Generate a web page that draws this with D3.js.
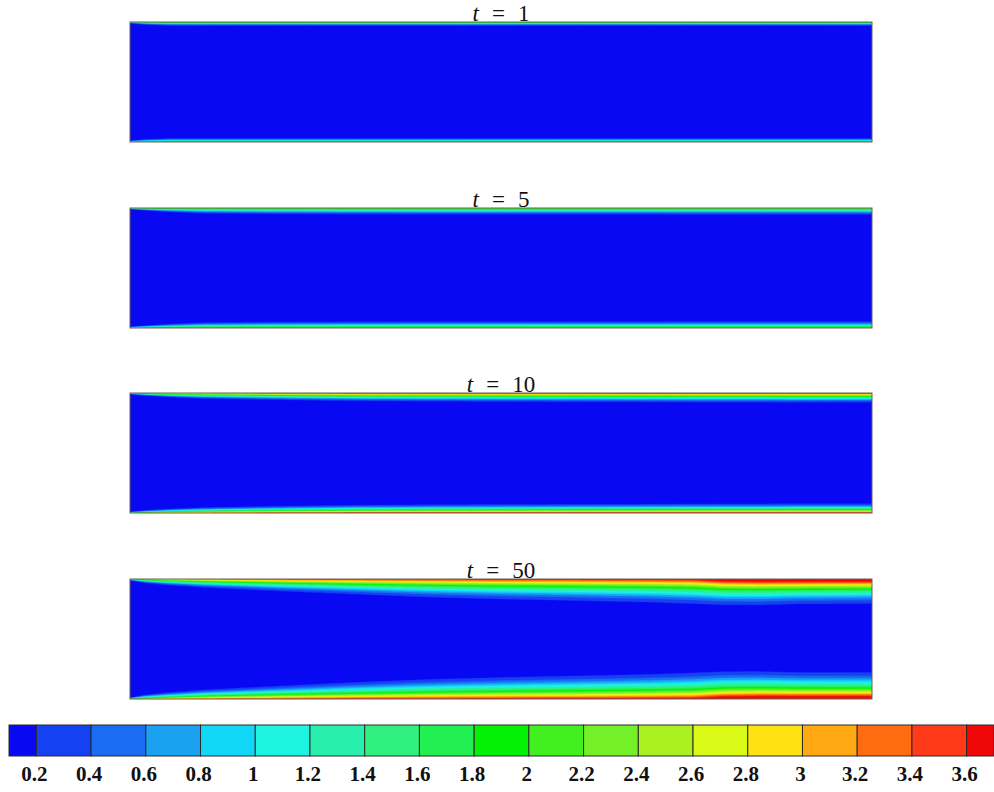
<!DOCTYPE html>
<html>
<head>
<meta charset="utf-8">
<title>Concentration contours</title>
<style>
  body { margin: 0; background: #fff; }
  svg { display: block; }
</style>
</head>
<body>
<div id="chart"></div>
<script src="https://d3js.org/d3.v7.min.js"></script>
<script>
var width = 994, height = 792;

// contour levels and colour bar
var levels = [0.2,0.4,0.6,0.8,1.0,1.2,1.4,1.6,1.8,2.0,2.2,2.4,2.6,2.8,3.0,3.2,3.4,3.6];
var levelLabels = ["0.2","0.4","0.6","0.8","1","1.2","1.4","1.6","1.8","2","2.2","2.4","2.6","2.8","3","3.2","3.4","3.6"];
var bandColors = ["#0808f2","#1442f2","#1a6cf2","#1aa2f0","#12d8f8","#1ef4e0","#28f0ac","#30f080",
                  "#22f052","#04f004","#42f020","#74f028","#aaf020","#dafa18","#ffe010","#ffa812",
                  "#ff6c10","#ff3a18","#f00808"];

// panels
var panelTimes = ["1","5","10","50"];
var coreValue = 0.1;

// stations along the channel (fraction of length)
var stations = [0, 0.02, 0.05, 0.1, 0.2, 0.3, 0.4, 0.5, 0.6, 0.7, 0.76, 0.8, 0.85, 0.9, 1];

// layer thickness at the top wall (fraction of channel height)
var thickTop = [
  [0.012, 0.028, 0.036, 0.038, 0.038, 0.038, 0.038, 0.038, 0.038, 0.038, 0.038, 0.038, 0.038, 0.038, 0.038],
  [0.010, 0.025, 0.040, 0.056, 0.063, 0.065, 0.066, 0.066, 0.067, 0.067, 0.068, 0.068, 0.068, 0.068, 0.068],
  [0.010, 0.025, 0.040, 0.055, 0.068, 0.078, 0.082, 0.085, 0.087, 0.089, 0.090, 0.091, 0.091, 0.092, 0.092],
  [0.012, 0.040, 0.060, 0.085, 0.120, 0.150, 0.180, 0.200, 0.215, 0.230, 0.245, 0.255, 0.255, 0.245, 0.240]
];
// layer thickness at the bottom wall
var thickBottom = [
  [0.012, 0.028, 0.036, 0.038, 0.038, 0.038, 0.038, 0.038, 0.038, 0.038, 0.038, 0.038, 0.038, 0.038, 0.038],
  [0.010, 0.025, 0.040, 0.056, 0.063, 0.065, 0.066, 0.066, 0.067, 0.067, 0.068, 0.068, 0.068, 0.068, 0.068],
  [0.010, 0.025, 0.040, 0.055, 0.068, 0.078, 0.082, 0.085, 0.087, 0.089, 0.090, 0.091, 0.091, 0.092, 0.092],
  [0.012, 0.042, 0.064, 0.092, 0.130, 0.165, 0.195, 0.215, 0.230, 0.245, 0.260, 0.270, 0.270, 0.262, 0.260]
];
// concentration at the wall
var wallValue = [
  [1.6, 1.9, 2.1, 2.1, 2.1, 2.1, 2.1, 2.1, 2.1, 2.1, 2.1, 2.1, 2.1, 2.1, 2.1],
  [1.8, 2.0, 2.2, 2.3, 2.3, 2.3, 2.3, 2.3, 2.3, 2.3, 2.3, 2.3, 2.3, 2.3, 2.3],
  [2.0, 2.5, 2.9, 3.2, 3.5, 3.6, 3.65, 3.65, 3.65, 3.65, 3.65, 3.65, 3.65, 3.65, 3.65],
  [2.0, 2.6, 3.0, 3.3, 3.5, 3.6, 3.65, 3.7, 3.7, 3.75, 3.8, 4.2, 4.3, 4.3, 4.3]
];

var panelTops = [22, 208, 393, 579];
var panelH = 120;
var nx = 186, ny = 240;

var svg = d3.select("#chart").append("svg")
    .attr("width", width)
    .attr("height", height);

var x = d3.scaleLinear().domain([0, 1]).range([130, 872]);

var contourGen = d3.contours()
    .size([nx, ny])
    .thresholds(levels);

function profile(d, delta, wall) {
  if (delta <= 0 || d >= delta) return coreValue;
  var s = 1 - d / delta;
  return coreValue + (wall - coreValue) * s * s;
}

panelTimes.forEach(function(t, k) {
  var top = panelTops[k];
  var y = d3.scaleLinear().domain([0, 1]).range([top, top + panelH]);

  var dTop = d3.scaleLinear().domain(stations).range(thickTop[k]).clamp(true);
  var dBot = d3.scaleLinear().domain(stations).range(thickBottom[k]).clamp(true);
  var wall = d3.scaleLinear().domain(stations).range(wallValue[k]).clamp(true);

  var values = new Float64Array(nx * ny);
  for (var j = 0; j < ny; j++) {
    for (var i = 0; i < nx; i++) {
      var xf = (i + 0.5) / nx, yf = (j + 0.5) / ny;
      var w = wall(xf);
      var a = profile(yf, dTop(xf), w);
      var b = profile(1 - yf, dBot(xf), w);
      values[j * nx + i] = Math.max(a, b);
    }
  }

  var sx = (x(1) - x(0)) / nx, sy = panelH / ny;
  var proj = d3.geoTransform({
    point: function(px, py) { this.stream.point(x(0) + px * sx, y(0) + py * sy); }
  });
  var path = d3.geoPath(proj);

  svg.append("clipPath").attr("id", "clip" + k)
    .append("rect")
    .attr("x", x(0)).attr("y", top)
    .attr("width", x(1) - x(0)).attr("height", panelH);

  var g = svg.append("g").attr("class", "panel")
      .attr("clip-path", "url(#clip" + k + ")");

  g.append("rect")
    .attr("x", x(0)).attr("y", top)
    .attr("width", x(1) - x(0)).attr("height", panelH)
    .attr("fill", bandColors[0]);

  g.selectAll("path")
    .data(contourGen(values))
    .enter().append("path")
    .attr("d", path)
    .attr("fill", function(d, i) { return bandColors[i + 1]; })
    .attr("stroke", function(d, i) { return bandColors[i + 1]; })
    .attr("stroke-width", 0.3);

  svg.append("rect")
    .attr("x", x(0)).attr("y", top)
    .attr("width", x(1) - x(0)).attr("height", panelH)
    .attr("fill", "none")
    .attr("stroke", "#6a6055")
    .attr("stroke-width", 1);

  // title  t = ...
  var title = svg.append("text")
    .attr("x", (x(0) + x(1)) / 2)
    .attr("y", top - 1)
    .attr("text-anchor", "middle")
    .style("font-family", "'Liberation Serif', 'DejaVu Serif', serif")
    .style("font-size", "23px")
    .attr("fill", "#111");
  title.append("tspan").style("font-style", "italic").text("t");
  title.append("tspan").attr("dx", 13).text("=");
  title.append("tspan").attr("dx", 13).text(t);
});

// colour bar
var cb = d3.scaleLinear().domain([0.1, 3.7]).range([9, 994]);
var edges = [0.1].concat(levels).concat([3.7]);
var cbTop = 725, cbH = 31;

svg.append("g").attr("class", "colorbar")
  .selectAll("rect")
  .data(bandColors)
  .enter().append("rect")
  .attr("x", function(d, i) { return cb(edges[i]); })
  .attr("y", cbTop)
  .attr("width", function(d, i) { return cb(edges[i + 1]) - cb(edges[i]); })
  .attr("height", cbH)
  .attr("fill", function(d) { return d; })
  .attr("stroke", "#2a2a2a")
  .attr("stroke-width", 1);

svg.append("g").attr("class", "colorbar-labels")
  .selectAll("text")
  .data(levels)
  .enter().append("text")
  .attr("x", function(d) { return cb(d) - 2; })
  .attr("y", 781)
  .attr("text-anchor", "middle")
  .style("font-family", "'Liberation Serif', 'Times New Roman', serif")
  .style("font-weight", "bold")
  .style("font-size", "21px")
  .attr("fill", "#111")
  .text(function(d, i) { return levelLabels[i]; });
</script>
</body>
</html>
